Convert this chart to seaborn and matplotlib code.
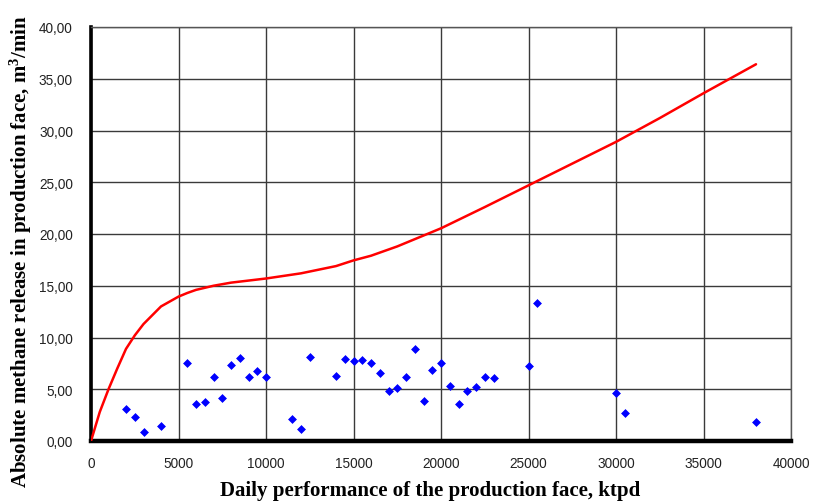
import matplotlib
matplotlib.use("Agg")
import matplotlib.pyplot as plt
import seaborn as sns
import pandas as pd
from matplotlib.ticker import FuncFormatter

# --- data ---
scatter_x = [2000, 2500, 3000, 4000, 5500, 6000, 6500, 7000, 7500, 8000, 8500,
             9000, 9500, 10000, 11500, 12000, 12500, 14000, 14500, 15000, 15500,
             16000, 16500, 17000, 17500, 18000, 18500, 19000, 19500, 20000, 20500,
             21000, 21500, 22000, 22500, 23000, 25000, 25500, 30000, 30500, 38000]
scatter_y = [3.08, 2.36, 0.84, 1.46, 7.57, 3.56, 3.75, 6.21, 4.20, 7.35, 8.06,
             6.21, 6.80, 6.18, 2.10, 1.16, 8.09, 6.31, 7.96, 7.77, 7.86,
             7.54, 6.57, 4.83, 5.08, 6.18, 8.90, 3.88, 6.86, 7.50, 5.30,
             3.62, 4.79, 5.18, 6.21, 6.12, 7.25, 13.33, 4.60, 2.69, 1.84]

curve_x = [0, 500, 1000, 1500, 2000, 2500, 3000, 4000, 5000, 5500, 6000, 7000,
           8000, 10000, 12000, 14000, 15000, 16000, 17500, 20000, 22500, 25000,
           27500, 30000, 32500, 35000, 38000]
curve_y = [0, 2.8, 5.0, 7.0, 8.9, 10.2, 11.3, 13.0, 13.95, 14.3, 14.6, 15.0,
           15.3, 15.7, 16.2, 16.9, 17.45, 17.9, 18.8, 20.55, 22.6, 24.7,
           26.8, 28.9, 31.2, 33.6, 36.4]

x_ticks = [0, 5000, 10000, 15000, 20000, 25000, 30000, 35000, 40000]
y_ticks = [0, 5, 10, 15, 20, 25, 30, 35, 40]

x_label = "Daily performance of the production face, ktpd"
y_label = "Absolute methane release in production face, m$^3$/min"

sns.set_theme(style="white")
plt.rcParams['font.family'] = ['Liberation Sans', 'DejaVu Sans']
plt.rcParams['mathtext.fontset'] = 'custom'
plt.rcParams['mathtext.rm'] = 'Liberation Serif:bold'
plt.rcParams['mathtext.it'] = 'Liberation Serif:bold'
plt.rcParams['mathtext.bf'] = 'Liberation Serif:bold'

pts = pd.DataFrame({"x": scatter_x, "y": scatter_y})
crv = pd.DataFrame({"x": curve_x, "y": curve_y})

fig = plt.figure(figsize=(8.13, 5.02), dpi=100)
ax = fig.add_axes([91/813, 1-442/502, 700/813, (442-28)/502])

sns.lineplot(data=crv, x="x", y="y", sort=False, color="#ff0000", lw=1.8, ax=ax, zorder=3)
sns.scatterplot(data=pts, x="x", y="y", marker="D", s=16, color="#0000ff",
                edgecolor="#0000ff", linewidth=0.5, ax=ax, zorder=4)

ax.set_xlim(0, 40000)
ax.set_ylim(0, 40)
ax.set_xticks(x_ticks)
ax.set_yticks(y_ticks)
ax.yaxis.set_major_formatter(FuncFormatter(lambda v, p: f"{v:.2f}".replace(".", ",")))
ax.xaxis.set_major_formatter(FuncFormatter(lambda v, p: f"{int(v)}"))
ax.grid(True, color="#3a3a3a", lw=1.0)
ax.set_axisbelow(True)

for s in ["top", "right"]:
    ax.spines[s].set_color("#555555")
    ax.spines[s].set_linewidth(1.0)
ax.spines["left"].set_color("black")
ax.spines["left"].set_linewidth(2.6)
ax.spines["bottom"].set_color("black")
ax.spines["bottom"].set_linewidth(3.2)

ax.tick_params(axis="both", length=0, labelsize=9.8, labelcolor="#222222")
ax.tick_params(axis="x", pad=11)
ax.tick_params(axis="y", pad=13)

ax.set_xlabel(x_label, family=["Liberation Serif", "DejaVu Serif"], fontweight="bold",
              fontsize=15, color="black")
ax.set_ylabel(y_label, family=["Liberation Serif", "DejaVu Serif"], fontweight="bold",
              fontsize=15, color="black")
ax.xaxis.set_label_coords((430 - 91) / 700, (442 - 481) / 414)
ax.yaxis.set_label_coords((34 - 91) / 700, (442 - 252) / 414)

fig.savefig("out.png", dpi=100)
